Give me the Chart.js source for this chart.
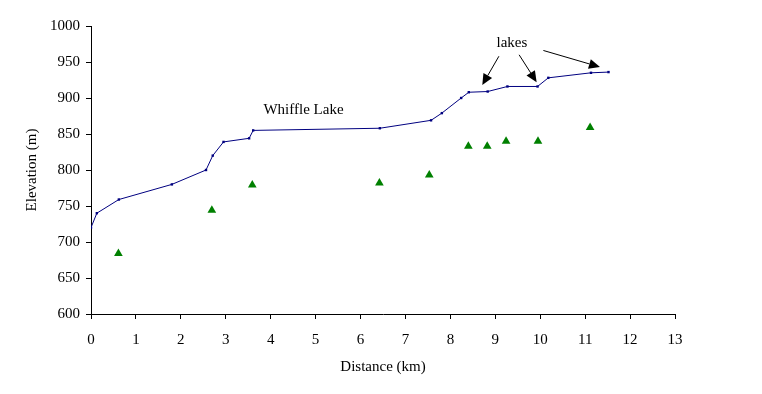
<!DOCTYPE html>
<html>
<head>
<meta charset="utf-8">
<script src="https://cdn.jsdelivr.net/npm/chart.js@4.4.0/dist/chart.umd.min.js"></script>
<style>
  html, body { margin: 0; padding: 0; background: #fff; }
  #wrap { width: 762px; height: 394px; }
</style>
</head>
<body>
<div id="wrap"><canvas id="profile" width="762" height="394"></canvas></div>
<script>
// route profile (distance km, elevation m)
const routeKm   = [0, 0.13, 0.62, 1.80, 2.56, 2.71, 2.95, 3.52, 3.61, 6.43, 7.57, 7.81, 8.24, 8.41, 8.83, 9.27, 9.94, 10.18, 11.13, 11.52];
const routeElev = [720, 740, 759, 780, 800, 820, 839, 844, 855, 858, 869, 879, 900, 908, 909, 916, 916, 928, 935, 936];

// measured points (green triangles)
const siteKm   = [0.61, 2.69, 3.59, 6.42, 7.53, 8.40, 8.82, 9.24, 9.95, 11.11];
const siteElev = [684, 744, 779, 782, 793, 833, 833, 840, 840, 859];

const xTicks = [0, 1, 2, 3, 4, 5, 6, 7, 8, 9, 10, 11, 12, 13];
const yTicks = [600, 650, 700, 750, 800, 850, 900, 950, 1000];

// labels and arrows, in data units
const noteText = ['Whiffle Lake', 'lakes'];
const noteX    = [4.73, 9.37];
const noteY    = [883, 976];
const arrowFromX = [9.08, 9.53, 10.07];
const arrowFromY = [958, 960, 966];
const arrowToX   = [8.71, 9.92, 11.33];
const arrowToY   = [918, 922, 943];

const FONT = '"Liberation Serif", "Times New Roman", serif';

const notesPlugin = {
    id: 'notes',
    afterDatasetsDraw(chart) {
        const ctx = chart.ctx;
        const xs = chart.scales.x;
        const ys = chart.scales.y;
        ctx.save();
        ctx.fillStyle = '#000';
        ctx.font = '15px ' + FONT;
        ctx.textAlign = 'center';
        ctx.textBaseline = 'middle';
        noteText.forEach((t, i) => {
            ctx.fillText(t, xs.getPixelForValue(noteX[i]), ys.getPixelForValue(noteY[i]));
        });

        ctx.strokeStyle = '#000';
        ctx.lineWidth = 1;
        arrowFromX.forEach((fx, i) => {
            const x1 = xs.getPixelForValue(fx);
            const y1 = ys.getPixelForValue(arrowFromY[i]);
            const x2 = xs.getPixelForValue(arrowToX[i]);
            const y2 = ys.getPixelForValue(arrowToY[i]);
            const ang = Math.atan2(y2 - y1, x2 - x1);
            const len = 11, half = 5;
            const bx = x2 - Math.cos(ang) * len;
            const by = y2 - Math.sin(ang) * len;
            ctx.beginPath();
            ctx.moveTo(x1, y1);
            ctx.lineTo(bx, by);
            ctx.stroke();
            ctx.beginPath();
            ctx.moveTo(x2, y2);
            ctx.lineTo(bx + Math.sin(ang) * half, by - Math.cos(ang) * half);
            ctx.lineTo(bx - Math.sin(ang) * half, by + Math.cos(ang) * half);
            ctx.closePath();
            ctx.fill();
        });
        ctx.restore();
    }
};

const ctx = document.getElementById('profile').getContext('2d');

new Chart(ctx, {
    type: 'scatter',
    data: {
        datasets: [{
            label: 'Route',
            data: routeKm.map((x, i) => ({ x: x, y: routeElev[i] })),
            showLine: true,
            borderColor: '#000080',
            backgroundColor: '#000080',
            borderWidth: 1,
            pointStyle: 'rect',
            pointRadius: 1.7,
            pointBorderWidth: 0,
            tension: 0
        }, {
            label: 'Sites',
            data: siteKm.map((x, i) => ({ x: x, y: siteElev[i] })),
            showLine: false,
            borderColor: '#008000',
            backgroundColor: '#008000',
            pointStyle: 'triangle',
            pointRadius: 5,
            pointBorderWidth: 0
        }]
    },
    options: {
        responsive: false,
        devicePixelRatio: 1,
        animation: false,
        layout: { padding: { left: 0, top: 26, right: 87, bottom: 0 } },
        scales: {
            x: {
                type: 'linear',
                min: 0,
                max: 13,
                afterBuildTicks: scale => { scale.ticks = xTicks.map(v => ({ value: v })); },
                afterFit: scale => { scale.height = 80; },
                border: { color: '#000', width: 1 },
                grid: { drawOnChartArea: false, drawTicks: true, tickLength: 5, color: '#000' },
                ticks: { color: '#000', padding: 12, maxRotation: 0, callback: v => String(v), font: { family: FONT, size: 15 } },
                title: { display: true, text: 'Distance (km)', color: '#000', padding: { top: 0, bottom: 18 }, font: { family: FONT, size: 15 } }
            },
            y: {
                type: 'linear',
                min: 600,
                max: 1000,
                afterBuildTicks: scale => { scale.ticks = yTicks.map(v => ({ value: v })); },
                afterFit: scale => { scale.width = 91; },
                border: { color: '#000', width: 1 },
                grid: { drawOnChartArea: false, drawTicks: true, tickLength: 5, color: '#000' },
                ticks: { color: '#000', padding: 6, callback: v => String(v), font: { family: FONT, size: 15 } },
                title: { display: true, text: 'Elevation (m)', color: '#000', padding: { top: 23, bottom: 0 }, font: { family: FONT, size: 15 } }
            }
        },
        plugins: {
            legend: { display: false },
            tooltip: { enabled: false }
        }
    },
    plugins: [notesPlugin]
});
</script>
</body>
</html>
